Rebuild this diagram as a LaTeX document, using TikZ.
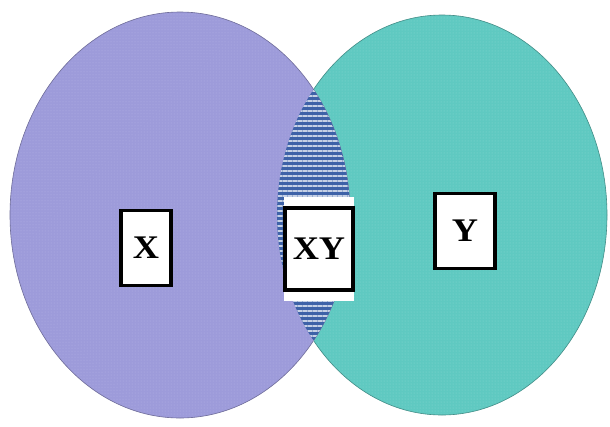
\documentclass[tikz,border=0pt]{standalone}
\usepackage{fontspec}
\setmainfont{Liberation Serif}
\usetikzlibrary{patterns.meta}
\definecolor{lav}{HTML}{9D9BDA}
\definecolor{lavdot}{HTML}{B4B3E6}
\definecolor{turq}{HTML}{5FC9C1}
\definecolor{turqdot}{HTML}{86D8D2}
\definecolor{lensblue}{HTML}{3E62A8}
\newcommand{\lbltext}[1]{\scalebox{1.1}[1]{#1}}
\tikzset{
  setL/.style={fill=lav, draw=lav!70!black, line width=0.6pt},
  setR/.style={fill=turq, draw=turq!70!black, line width=0.6pt},
  lbl/.style={draw=black, fill=white, line width=3.5pt, inner sep=0pt, font=\bfseries\fontsize{33}{33}\selectfont},
}
\begin{document}
\begin{tikzpicture}[x=1pt,y=-1pt]
\useasboundingbox (0,0) rectangle (610,426);
\fill[white] (0,0) rectangle (610,426);
% right set
\path[setR] (442,215) ellipse [x radius=165, y radius=200];
\fill[pattern={Dots[distance=3pt,radius=0.5pt]}, pattern color=turqdot] (442,215) ellipse [x radius=164, y radius=199];
% left set
\path[setL] (180,215) ellipse [x radius=170, y radius=203];
\fill[pattern={Dots[distance=3pt,radius=0.5pt]}, pattern color=lavdot] (180,215) ellipse [x radius=169, y radius=202];
% lens
\begin{scope}
  \clip (442,215) ellipse [x radius=165, y radius=200];
  \fill[lensblue] (180,215) ellipse [x radius=170, y radius=203];
  \fill[pattern={Lines[angle=0,distance=5pt,line width=1.4pt]}, pattern color=white!70!lensblue] (180,215) ellipse [x radius=170, y radius=203];
\end{scope}
% labels
\node[lbl, minimum width=50pt, minimum height=75pt] (x) at (146,248) {\lbltext{X}};
\node[lbl, minimum width=60pt, minimum height=75pt] (y) at (465,231) {\lbltext{Y}};
\fill[white] (284,197) rectangle (354,301);
\node[lbl, minimum width=68pt, minimum height=82pt] (xy) at (319,249) {\lbltext{XY}};
\end{tikzpicture}
\end{document}
